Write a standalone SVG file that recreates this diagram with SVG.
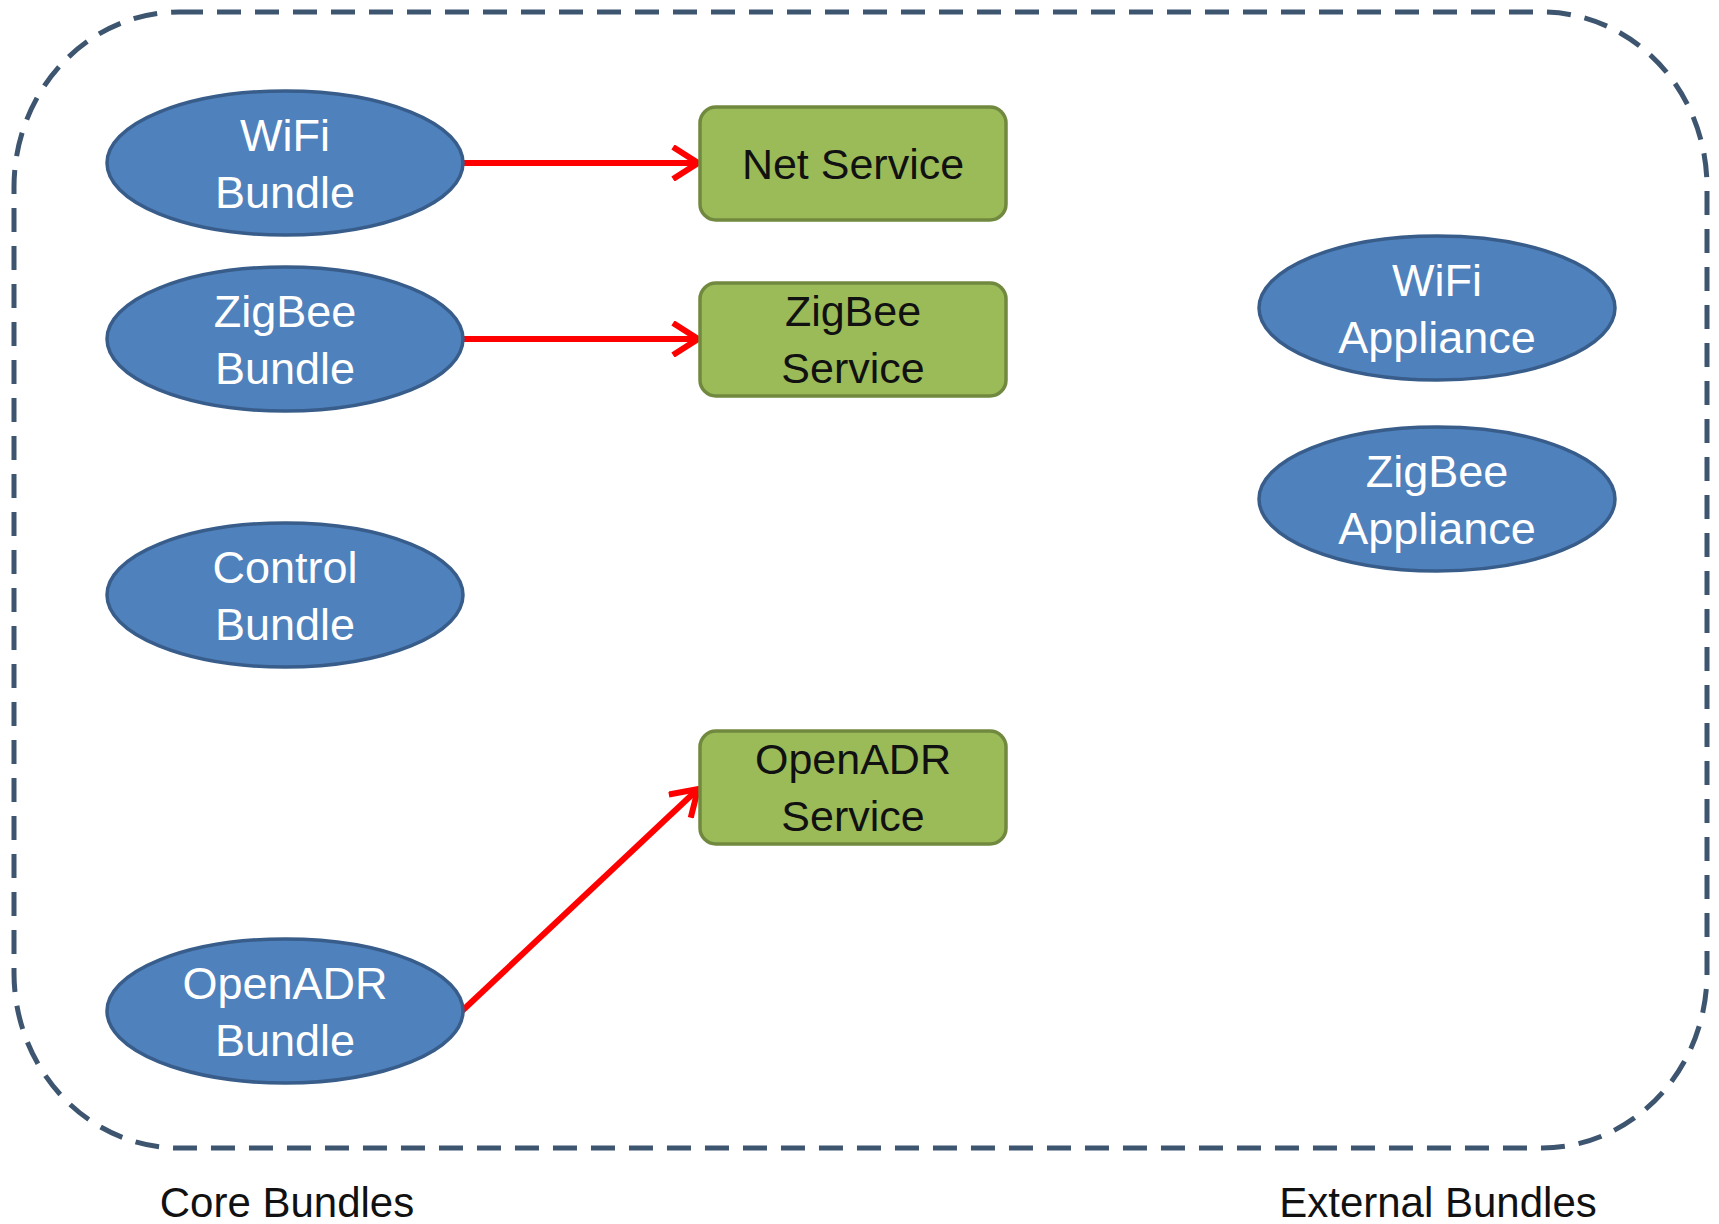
<svg xmlns="http://www.w3.org/2000/svg" width="1719" height="1224" viewBox="0 0 1719 1224">
<style>
.bundle ellipse{fill:#4F81BD;stroke:#385D8A;stroke-width:3.5}
.bundle text{fill:#FFFFFF;font-family:"Liberation Sans",Arial,sans-serif;font-size:45px;text-anchor:middle}
.svc rect{fill:#9BBB59;stroke:#71893F;stroke-width:3.5}
.svc text{fill:#111111;font-family:"Liberation Sans",Arial,sans-serif;font-size:43px;text-anchor:middle}
.lbl{fill:#111111;font-family:"Liberation Sans",Arial,sans-serif;font-size:42px;text-anchor:middle}
.conn{stroke:#FF0000;stroke-width:6;fill:none;marker-end:url(#arr)}
</style>
<defs>
<marker id="arr" viewBox="0 0 32 36" refX="29" refY="18" markerWidth="32" markerHeight="36" markerUnits="userSpaceOnUse" orient="auto">
<path d="M4,2 L29,18 L4,34" fill="none" stroke="#FF0000" stroke-width="6" stroke-linejoin="miter"/>
</marker>
</defs>
<rect width="1719" height="1224" fill="#FFFFFF"/>
<rect id="boundary" x="14" y="12" width="1693" height="1136" rx="165" ry="175" fill="none" stroke="#3E5570" stroke-width="5" stroke-dasharray="24 14"/>
<g id="connectors">
<line class="conn" x1="464" y1="163" x2="698" y2="163"/>
<line class="conn" x1="464" y1="339" x2="698" y2="339"/>
<line class="conn" x1="462" y1="1011" x2="698" y2="789"/>
</g>
<g id="wifi-bundle" class="bundle"><ellipse cx="285" cy="163" rx="178" ry="72"/><text x="285" y="151">WiFi</text><text x="285" y="208">Bundle</text></g>
<g id="zigbee-bundle" class="bundle"><ellipse cx="285" cy="339" rx="178" ry="72"/><text x="285" y="327">ZigBee</text><text x="285" y="384">Bundle</text></g>
<g id="control-bundle" class="bundle"><ellipse cx="285" cy="595" rx="178" ry="72"/><text x="285" y="583">Control</text><text x="285" y="640">Bundle</text></g>
<g id="openadr-bundle" class="bundle"><ellipse cx="285" cy="1011" rx="178" ry="72"/><text x="285" y="999">OpenADR</text><text x="285" y="1056">Bundle</text></g>
<g id="wifi-appliance" class="bundle"><ellipse cx="1437" cy="308" rx="178" ry="72"/><text x="1437" y="296">WiFi</text><text x="1437" y="353">Appliance</text></g>
<g id="zigbee-appliance" class="bundle"><ellipse cx="1437" cy="499" rx="178" ry="72"/><text x="1437" y="487">ZigBee</text><text x="1437" y="544">Appliance</text></g>
<g id="net-service" class="svc"><rect x="700" y="107" width="306" height="113" rx="16"/><text x="853" y="179">Net Service</text></g>
<g id="zigbee-service" class="svc"><rect x="700" y="283" width="306" height="113" rx="16"/><text x="853" y="326">ZigBee</text><text x="853" y="383">Service</text></g>
<g id="openadr-service" class="svc"><rect x="700" y="731" width="306" height="113" rx="16"/><text x="853" y="774">OpenADR</text><text x="853" y="831">Service</text></g>
<text class="lbl" x="287" y="1217">Core Bundles</text>
<text class="lbl" x="1438" y="1217">External Bundles</text>
</svg>
